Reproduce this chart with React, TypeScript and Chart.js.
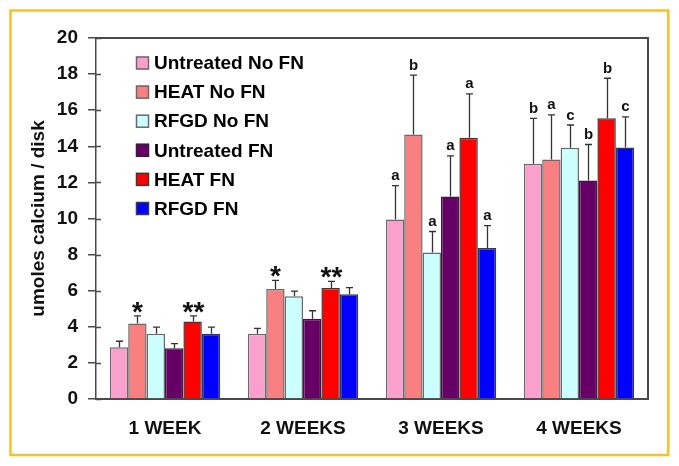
import React, { useEffect, useRef } from 'react';
import { Chart, registerables } from 'chart.js';

Chart.register(...registerables);

// ---------- data ----------
const categories = ['1 WEEK', '2 WEEKS', '3 WEEKS', '4 WEEKS'];
const seriesNames = ['Untreated No FN', 'HEAT No FN', 'RFGD No FN', 'Untreated FN', 'HEAT FN', 'RFGD FN'];

const untreatedNoFN = [2.87, 3.61, 9.94, 13.04];
const heatNoFN = [4.18, 6.09, 14.65, 13.27];
const rfgdNoFN = [3.62, 5.69, 8.12, 13.92];
const untreatedFN = [2.81, 4.44, 11.22, 12.1];
const heatFN = [4.3, 6.15, 14.47, 15.55];
const rfgdFN = [3.62, 5.8, 8.36, 13.93];

// upper ends of the error bars
const untreatedNoFNErr = [3.2, 3.91, 11.82, 15.55];
const heatNoFNErr = [4.6, 6.57, 17.94, 15.74];
const rfgdNoFNErr = [3.98, 5.98, 9.28, 15.18];
const untreatedFNErr = [3.07, 4.89, 13.47, 14.1];
const heatFNErr = [4.6, 6.52, 16.9, 17.77];
const rfgdFNErr = [3.98, 6.17, 9.6, 15.63];

// significance marks above the error bars
const untreatedNoFNMarks = ['', '', 'a', 'b'];
const heatNoFNMarks = ['*', '*', 'b', 'a'];
const rfgdNoFNMarks = ['', '', 'a', 'c'];
const untreatedFNMarks = ['', '', 'a', 'b'];
const heatFNMarks = ['**', '**', 'a', 'b'];
const rfgdFNMarks = ['', '', 'a', 'c'];

const yMin = 0;
const yMax = 20;
const yStep = 2;
const yTitle = 'umoles calcium / disk';

const seriesValues = [untreatedNoFN, heatNoFN, rfgdNoFN, untreatedFN, heatFN, rfgdFN];
const seriesErr = [untreatedNoFNErr, heatNoFNErr, rfgdNoFNErr, untreatedFNErr, heatFNErr, rfgdFNErr];
const seriesMarks = [untreatedNoFNMarks, heatNoFNMarks, rfgdNoFNMarks, untreatedFNMarks, heatFNMarks, rfgdFNMarks];

// ---------- styles ----------
const fills = ['#F9A0CC', '#F88080', '#CCFFFF', '#660066', '#FF0000', '#0000FF'];
const borders = ['#6a6a6a', '#6a6a6a', '#6a6a6a', '#3a1a3a', '#3a3a3a', '#3a3a3a'];
const FONT = '"Liberation Sans", Arial, Helvetica, sans-serif';
const AXIS = '#4a4a4a';

const framePlugin = {
  id: 'frame',
  beforeDraw(chart: any) {
    const ctx = chart.ctx;
    ctx.save();
    ctx.fillStyle = '#ffffff';
    ctx.fillRect(0, 0, chart.width, chart.height);
    ctx.restore();
  },
  afterDraw(chart: any) {
    const ctx = chart.ctx;
    const { left, top, right, bottom } = chart.chartArea;
    ctx.save();
    // plot box (top and right sides)
    ctx.strokeStyle = AXIS;
    ctx.lineWidth = 2;
    ctx.beginPath();
    ctx.moveTo(left, top);
    ctx.lineTo(right, top);
    ctx.lineTo(right, bottom);
    ctx.stroke();
    // inner part of the y ticks
    const ys = chart.scales.y;
    ctx.lineWidth = 1.5;
    for (let v = yMin; v <= yMax; v += yStep) {
      const py = Math.round(ys.getPixelForValue(v)) + 0.5;
      ctx.beginPath();
      ctx.moveTo(left, py);
      ctx.lineTo(left + 5, py);
      ctx.stroke();
    }
    // legend
    ctx.font = `bold 19px ${FONT}`;
    ctx.textBaseline = 'middle';
    ctx.textAlign = 'left';
    chart.data.datasets.forEach((ds: any, i: number) => {
      const cy = top + 25 + i * 29.1;
      const bx = left + 40;
      ctx.fillStyle = ds.backgroundColor;
      ctx.fillRect(bx, cy - 6.5, 13, 13);
      ctx.strokeStyle = ds.borderColor;
      ctx.lineWidth = 1.5;
      ctx.strokeRect(bx + 0.5, cy - 6, 12, 12);
      ctx.fillStyle = '#000';
      ctx.fillText(ds.label, bx + 18, cy + 1);
    });
    // gold frame
    ctx.strokeStyle = '#F5C12A';
    ctx.lineWidth = 2.5;
    ctx.strokeRect(10.5, 10.5, 657.8, 444.5);
    ctx.restore();
  },
  afterDatasetsDraw(chart: any) {
    const ctx = chart.ctx;
    const ys = chart.scales.y;
    ctx.save();
    chart.data.datasets.forEach((ds: any, i: number) => {
      const meta = chart.getDatasetMeta(i);
      meta.data.forEach((bar: any, j: number) => {
        const x = Math.round(bar.x) + 0.5;
        const yTop = ys.getPixelForValue(seriesErr[i][j]);
        const yBar = bar.y;
        ctx.strokeStyle = '#333';
        ctx.lineWidth = 1.3;
        ctx.beginPath();
        ctx.moveTo(x, yBar);
        ctx.lineTo(x, yTop);
        ctx.moveTo(x - 3.5, yTop);
        ctx.lineTo(x + 3.5, yTop);
        ctx.stroke();
        const mark = seriesMarks[i][j];
        if (mark) {
          ctx.fillStyle = '#111';
          ctx.textAlign = 'center';
          ctx.textBaseline = 'alphabetic';
          if (mark.startsWith('*')) {
            ctx.font = `bold 28px ${FONT}`;
            const m = ctx.measureText(mark);
            const desc = m.actualBoundingBoxDescent || -12;
            ctx.fillText(mark, x, yTop - 3 - desc);
          } else {
            ctx.font = `bold 15px ${FONT}`;
            ctx.fillText(mark, x, yTop - 5.5);
          }
        }
      });
    });
    ctx.restore();
  },
};

export default function App() {
  const ref = useRef<HTMLCanvasElement | null>(null);

  useEffect(() => {
    if (!ref.current) return;
    const chart = new Chart(ref.current, {
      type: 'bar',
      data: {
        labels: categories,
        datasets: seriesNames.map((name, i) => ({
          label: name,
          data: seriesValues[i],
          backgroundColor: fills[i],
          borderColor: borders[i],
          borderWidth: 1.5,
          barPercentage: 1.0,
          categoryPercentage: 0.8,
        })),
      },
      options: {
        animation: false,
        responsive: false,
        devicePixelRatio: 1,
        layout: { padding: { left: 0, top: 38, right: 31, bottom: 0 } },
        plugins: {
          legend: { display: false },
          tooltip: { enabled: false },
        },
        scales: {
          x: {
            grid: { display: false, drawTicks: false },
            border: { display: true, color: AXIS, width: 2 },
            ticks: {
              color: '#111',
              font: { family: FONT, size: 19, weight: 'bold' },
              padding: 18,
              maxRotation: 0,
              autoSkip: false,
            },
            afterFit: (s: any) => {
              s.height = 67;
            },
          },
          y: {
            min: yMin,
            max: yMax,
            grid: { drawOnChartArea: false, drawTicks: true, tickLength: 8, color: AXIS, lineWidth: 1.5 },
            border: { display: true, color: AXIS, width: 1.5 },
            ticks: {
              stepSize: yStep,
              color: '#111',
              font: { family: FONT, size: 19, weight: 'bold' },
              padding: 10,
            },
            title: {
              display: true,
              text: yTitle,
              color: '#111',
              font: { family: FONT, size: 19, weight: 'bold' },
              padding: { top: 27, bottom: 0 },
            },
            afterFit: (s: any) => {
              s.width = 96;
            },
          },
        },
      },
      plugins: [framePlugin],
    } as any);
    return () => chart.destroy();
  }, []);

  return (
    <div style={{ position: 'fixed', left: 0, top: 0, width: 679, height: 466, background: '#fff' }}>
      <canvas ref={ref} width={679} height={466} style={{ display: 'block', width: 679, height: 466 }} />
    </div>
  );
}
